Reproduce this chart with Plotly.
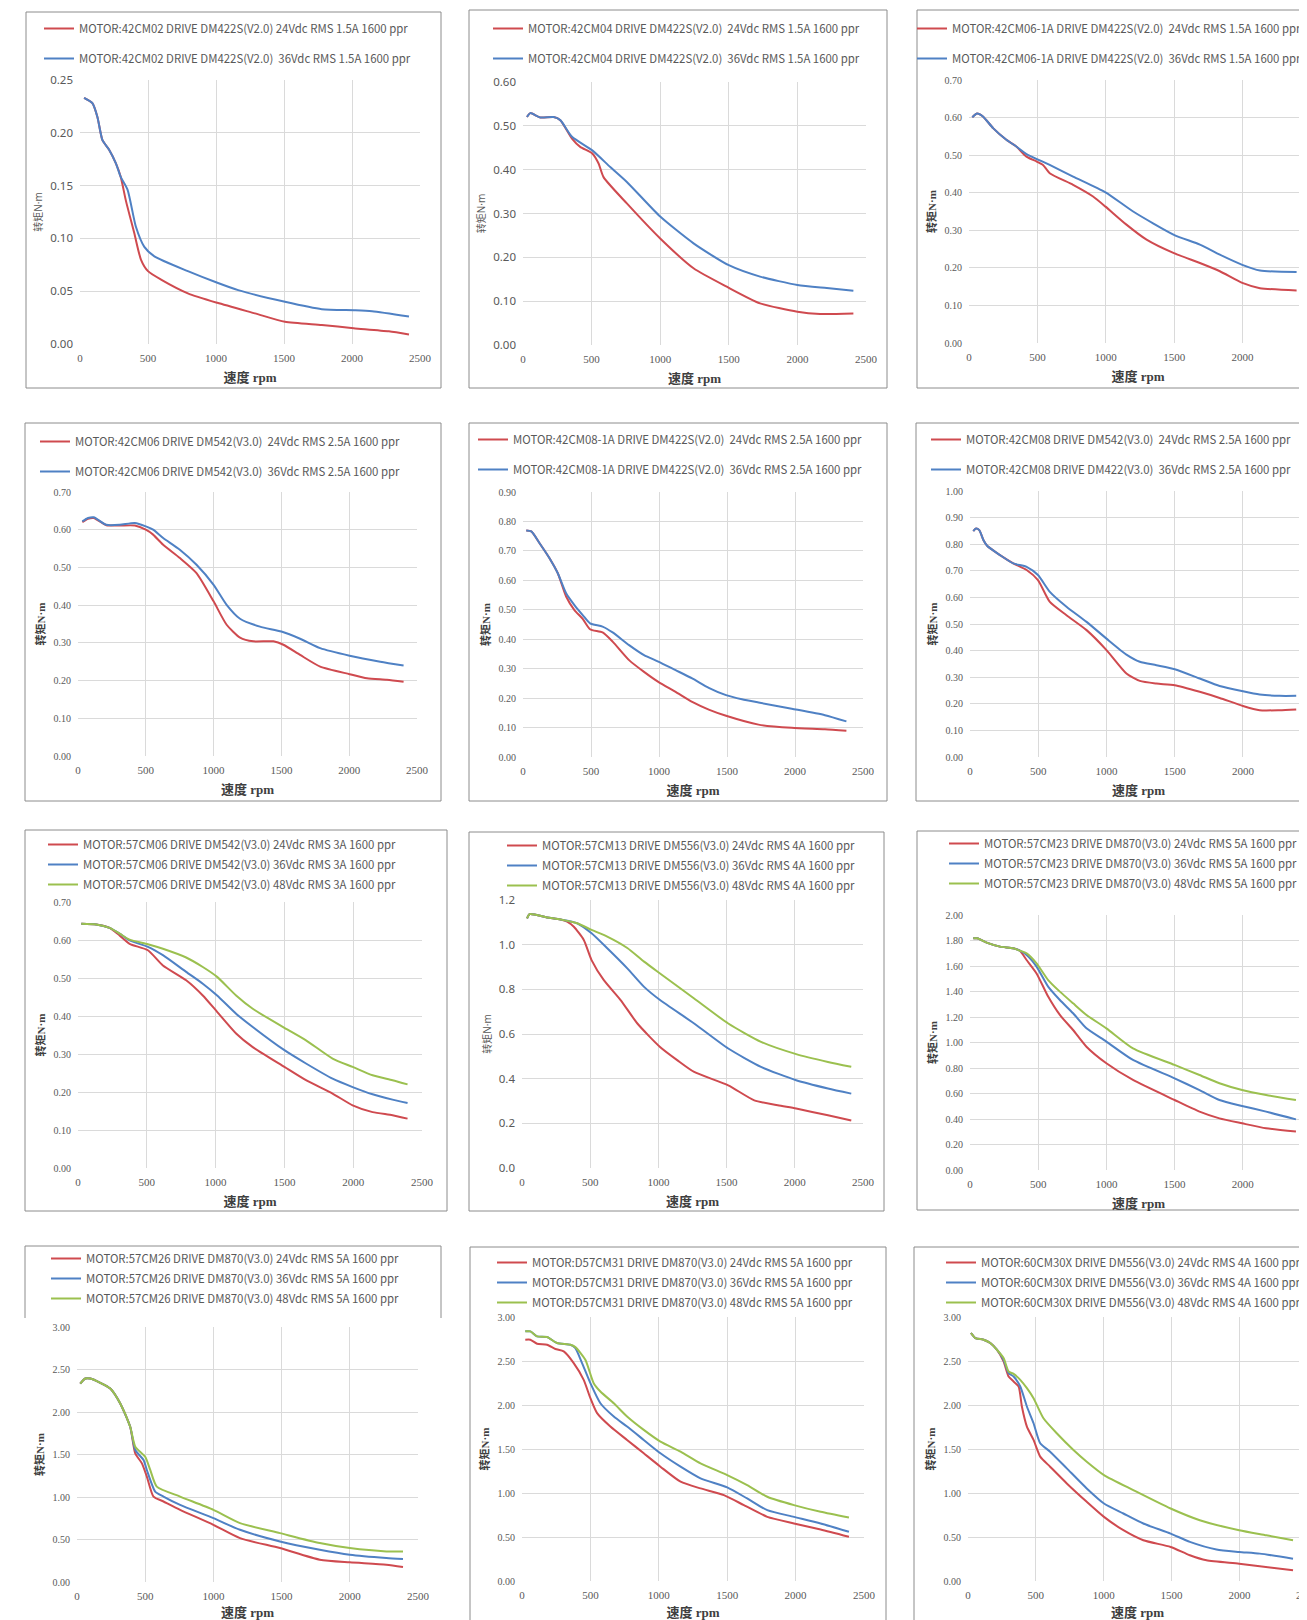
import plotly.graph_objects as go

# target picture size; the html body adds an 8px margin, so the figure itself is smaller
W, H = 1307, 1620
OFF = 8
FW, FH = W - OFF, H - OFF

RED = "#cf4a4f"
BLUE = "#4f81c4"
GREEN = "#9bc04f"

# 42CM02 / DM422S(V2.0)
CM02_RPM_24 = [30, 91, 128, 165, 214, 264, 300, 337, 399, 448, 500, 596, 793, 1010, 1286, 1507, 1778, 2012, 2271, 2419]
CM02_NM_24 = [0.233, 0.228, 0.215, 0.193, 0.184, 0.171, 0.158, 0.136, 0.105, 0.080, 0.069, 0.061, 0.048, 0.039, 0.029, 0.021, 0.018, 0.015, 0.012, 0.009]
CM02_RPM_36 = [30, 91, 128, 165, 214, 264, 300, 350, 411, 473, 547, 793, 1010, 1163, 1507, 1778, 2025, 2148, 2419]
CM02_NM_36 = [0.233, 0.228, 0.215, 0.193, 0.184, 0.171, 0.158, 0.146, 0.111, 0.092, 0.083, 0.069, 0.058, 0.051, 0.040, 0.033, 0.032, 0.031, 0.026]

# 42CM04 / DM422S(V2.0)
CM04_RPM_24 = [29, 53, 126, 223, 272, 357, 417, 505, 551, 587, 757, 1000, 1243, 1485, 1728, 2000, 2165, 2408]
CM04_NM_24 = [0.520, 0.529, 0.519, 0.520, 0.513, 0.471, 0.452, 0.437, 0.414, 0.383, 0.323, 0.243, 0.175, 0.133, 0.095, 0.076, 0.071, 0.072]
CM04_RPM_36 = [29, 53, 126, 223, 272, 357, 505, 636, 757, 1000, 1243, 1500, 1728, 2000, 2214, 2408]
CM04_NM_36 = [0.520, 0.529, 0.519, 0.520, 0.513, 0.475, 0.444, 0.406, 0.372, 0.293, 0.232, 0.182, 0.156, 0.137, 0.130, 0.124]

# 42CM06-1A / DM422S(V2.0)
CM06A_RPM_24 = [24, 59, 102, 176, 273, 346, 420, 495, 541, 590, 761, 907, 998, 1151, 1298, 1498, 1688, 1834, 1998, 2127, 2395]
CM06A_NM_24 = [0.601, 0.611, 0.603, 0.572, 0.541, 0.523, 0.496, 0.483, 0.474, 0.452, 0.421, 0.390, 0.363, 0.315, 0.275, 0.239, 0.213, 0.191, 0.160, 0.146, 0.140]
CM06A_RPM_36 = [24, 59, 102, 176, 273, 346, 420, 590, 761, 998, 1200, 1498, 1688, 1834, 1998, 2127, 2395]
CM06A_NM_36 = [0.601, 0.611, 0.603, 0.572, 0.541, 0.523, 0.503, 0.474, 0.443, 0.401, 0.350, 0.288, 0.262, 0.235, 0.208, 0.193, 0.189]

# 42CM06 / DM542(V3.0)
CM06_RPM_24 = [32, 74, 116, 209, 308, 419, 500, 554, 628, 751, 874, 1000, 1096, 1195, 1293, 1441, 1515, 1638, 1786, 2003, 2131, 2278, 2401]
CM06_NM_24 = [0.620, 0.629, 0.631, 0.612, 0.611, 0.611, 0.600, 0.587, 0.560, 0.525, 0.485, 0.410, 0.348, 0.314, 0.304, 0.304, 0.295, 0.268, 0.237, 0.217, 0.206, 0.202, 0.197]
CM06_RPM_36 = [32, 74, 116, 209, 308, 419, 500, 554, 628, 751, 874, 1000, 1096, 1195, 1342, 1500, 1638, 1786, 2003, 2229, 2401]
CM06_NM_36 = [0.622, 0.631, 0.633, 0.613, 0.613, 0.618, 0.609, 0.600, 0.578, 0.547, 0.507, 0.454, 0.401, 0.364, 0.343, 0.330, 0.311, 0.286, 0.266, 0.250, 0.240]

# 42CM08-1A / DM422S(V2.0)
CM08A_RPM_24 = [24, 61, 122, 195, 256, 317, 378, 439, 493, 585, 659, 780, 890, 995, 1122, 1244, 1366, 1493, 1732, 1976, 2220, 2378]
CM08A_NM_24 = [0.769, 0.766, 0.726, 0.675, 0.624, 0.545, 0.499, 0.469, 0.434, 0.423, 0.392, 0.329, 0.289, 0.255, 0.221, 0.187, 0.161, 0.140, 0.110, 0.099, 0.094, 0.089]
CM08A_RPM_36 = [24, 61, 122, 195, 256, 317, 378, 439, 493, 585, 659, 780, 890, 995, 1122, 1244, 1366, 1493, 1610, 1732, 1976, 2220, 2378]
CM08A_NM_36 = [0.769, 0.766, 0.726, 0.675, 0.624, 0.556, 0.516, 0.482, 0.454, 0.443, 0.423, 0.380, 0.346, 0.324, 0.295, 0.267, 0.235, 0.210, 0.196, 0.185, 0.164, 0.142, 0.121]

# 42CM08 / DM542(V3.0), DM422(V3.0)
CM08_RPM_24 = [24, 44, 68, 98, 127, 220, 317, 415, 498, 585, 707, 854, 1000, 1146, 1244, 1366, 1500, 1683, 1829, 2000, 2122, 2268, 2390]
CM08_NM_24 = [0.849, 0.859, 0.853, 0.816, 0.793, 0.759, 0.728, 0.703, 0.665, 0.583, 0.533, 0.477, 0.402, 0.314, 0.286, 0.276, 0.270, 0.245, 0.222, 0.192, 0.176, 0.176, 0.179]
CM08_RPM_36 = [24, 44, 68, 98, 127, 220, 317, 415, 498, 585, 707, 854, 1000, 1146, 1244, 1366, 1500, 1683, 1829, 2000, 2122, 2268, 2390]
CM08_NM_36 = [0.849, 0.859, 0.853, 0.816, 0.793, 0.759, 0.728, 0.715, 0.684, 0.621, 0.565, 0.508, 0.445, 0.385, 0.358, 0.345, 0.330, 0.295, 0.267, 0.247, 0.235, 0.230, 0.230]

# 57CM06 / DM542(V3.0)
M57CM06_RPM = [24, 133, 230, 302, 375, 508, 617, 786, 907, 1011, 1149, 1270, 1500, 1657, 1850, 1996, 2141, 2286, 2395]
M57CM06_NM_24 = [0.643, 0.641, 0.632, 0.612, 0.590, 0.573, 0.533, 0.494, 0.454, 0.411, 0.354, 0.318, 0.266, 0.231, 0.196, 0.165, 0.147, 0.139, 0.130]
M57CM06_NM_36 = [0.643, 0.641, 0.632, 0.617, 0.599, 0.582, 0.560, 0.516, 0.485, 0.454, 0.406, 0.371, 0.310, 0.275, 0.235, 0.213, 0.194, 0.180, 0.171]
M57CM06_NM_48 = [0.643, 0.641, 0.632, 0.617, 0.601, 0.589, 0.577, 0.554, 0.529, 0.503, 0.454, 0.419, 0.369, 0.336, 0.288, 0.266, 0.244, 0.231, 0.220]

# 57CM13 / DM556(V3.0)
M57CM13_RPM_24 = [37, 56, 184, 282, 331, 380, 453, 510, 600, 723, 846, 1012, 1140, 1262, 1512, 1703, 1875, 2010, 2243, 2414]
M57CM13_NM_24 = [1.118, 1.137, 1.122, 1.113, 1.103, 1.080, 1.021, 0.931, 0.841, 0.752, 0.647, 0.542, 0.482, 0.430, 0.370, 0.303, 0.281, 0.266, 0.236, 0.213]
M57CM13_RPM = [37, 56, 184, 282, 404, 510, 625, 772, 895, 1012, 1262, 1512, 1752, 2010, 2243, 2414]
M57CM13_NM_36 = [1.118, 1.137, 1.122, 1.113, 1.096, 1.051, 0.984, 0.894, 0.811, 0.752, 0.647, 0.535, 0.453, 0.393, 0.356, 0.333]
M57CM13_NM_48 = [1.118, 1.137, 1.122, 1.113, 1.096, 1.066, 1.036, 0.985, 0.924, 0.871, 0.759, 0.647, 0.565, 0.510, 0.475, 0.453]

# 57CM23 / DM870(V3.0)
M57CM23_RPM = [24, 54, 122, 220, 317, 366, 415, 488, 573, 659, 756, 854, 1000, 1195, 1500, 1683, 1829, 1995, 2171, 2390]
M57CM23_NM_24 = [1.817, 1.817, 1.783, 1.752, 1.739, 1.720, 1.647, 1.542, 1.360, 1.216, 1.098, 0.967, 0.837, 0.706, 0.549, 0.458, 0.405, 0.366, 0.327, 0.301]
M57CM23_NM_36 = [1.817, 1.817, 1.783, 1.752, 1.739, 1.720, 1.686, 1.595, 1.438, 1.333, 1.229, 1.111, 1.007, 0.863, 0.719, 0.627, 0.549, 0.502, 0.458, 0.397]
M57CM23_NM_48 = [1.817, 1.817, 1.783, 1.752, 1.739, 1.720, 1.699, 1.621, 1.490, 1.399, 1.307, 1.216, 1.111, 0.954, 0.824, 0.745, 0.680, 0.627, 0.588, 0.549]

# 57CM26 / DM870(V3.0)
M57CM26_RPM_24 = [24, 61, 98, 171, 244, 317, 390, 427, 476, 512, 561, 634, 756, 1000, 1195, 1488, 1780, 2000, 2268, 2390]
M57CM26_NM_24 = [2.335, 2.394, 2.394, 2.343, 2.276, 2.100, 1.826, 1.513, 1.396, 1.240, 1.005, 0.947, 0.849, 0.673, 0.516, 0.399, 0.262, 0.231, 0.203, 0.176]
M57CM26_RPM_36 = [24, 61, 98, 171, 244, 317, 390, 427, 488, 512, 573, 634, 756, 1000, 1195, 1488, 1780, 2000, 2268, 2390]
M57CM26_NM_36 = [2.335, 2.394, 2.394, 2.343, 2.276, 2.100, 1.826, 1.553, 1.435, 1.318, 1.064, 1.005, 0.907, 0.751, 0.614, 0.477, 0.380, 0.321, 0.282, 0.270]
M57CM26_RPM_48 = [24, 61, 98, 171, 244, 317, 390, 427, 500, 537, 585, 756, 1000, 1195, 1488, 1780, 2000, 2268, 2390]
M57CM26_NM_48 = [2.335, 2.394, 2.394, 2.343, 2.276, 2.100, 1.826, 1.592, 1.474, 1.318, 1.122, 1.005, 0.849, 0.693, 0.575, 0.458, 0.399, 0.360, 0.360]

# D57CM31 / DM870(V3.0)
D57_RPM_24 = [24, 61, 110, 183, 244, 305, 378, 451, 500, 549, 646, 768, 890, 1012, 1159, 1305, 1476, 1622, 1793, 1988, 2183, 2390]
D57_NM_24 = [2.742, 2.742, 2.696, 2.685, 2.636, 2.609, 2.476, 2.286, 2.077, 1.907, 1.755, 1.603, 1.451, 1.299, 1.129, 1.052, 0.976, 0.862, 0.729, 0.654, 0.585, 0.502]
D57_RPM_36 = [24, 61, 110, 183, 256, 354, 390, 439, 500, 573, 671, 768, 890, 1012, 1159, 1305, 1500, 1646, 1793, 1988, 2183, 2390]
D57_NM_36 = [2.837, 2.837, 2.780, 2.772, 2.704, 2.685, 2.647, 2.476, 2.248, 2.020, 1.869, 1.755, 1.603, 1.451, 1.299, 1.166, 1.064, 0.938, 0.805, 0.729, 0.654, 0.559]
D57_RPM_48 = [24, 61, 110, 183, 256, 354, 390, 463, 524, 573, 671, 768, 890, 1012, 1159, 1305, 1500, 1646, 1793, 1988, 2183, 2390]
D57_NM_48 = [2.837, 2.837, 2.780, 2.772, 2.704, 2.685, 2.658, 2.514, 2.248, 2.153, 2.020, 1.869, 1.717, 1.584, 1.470, 1.337, 1.204, 1.090, 0.957, 0.862, 0.786, 0.721]

# 60CM30X / DM556(V3.0)
M60_RPM_24 = [22, 54, 115, 164, 213, 262, 299, 336, 373, 397, 434, 483, 532, 605, 728, 875, 1002, 1145, 1292, 1493, 1635, 1757, 1998, 2150, 2395]
M60_NM_24 = [2.818, 2.761, 2.742, 2.704, 2.628, 2.495, 2.324, 2.267, 2.210, 1.983, 1.755, 1.603, 1.413, 1.299, 1.109, 0.900, 0.729, 0.577, 0.463, 0.387, 0.292, 0.235, 0.197, 0.167, 0.121]
M60_RPM_36 = [22, 54, 115, 164, 213, 262, 299, 336, 385, 434, 483, 532, 605, 728, 875, 1002, 1145, 1292, 1493, 1635, 1831, 1998, 2150, 2395]
M60_NM_36 = [2.818, 2.761, 2.742, 2.704, 2.628, 2.514, 2.362, 2.324, 2.210, 1.983, 1.793, 1.565, 1.470, 1.280, 1.052, 0.881, 0.767, 0.653, 0.539, 0.444, 0.357, 0.330, 0.311, 0.254]
M60_RPM_48 = [22, 54, 115, 164, 213, 262, 299, 336, 385, 434, 483, 556, 654, 777, 875, 1002, 1218, 1493, 1708, 1998, 2199, 2395]
M60_NM_48 = [2.818, 2.761, 2.742, 2.704, 2.628, 2.533, 2.381, 2.354, 2.286, 2.191, 2.077, 1.849, 1.679, 1.489, 1.356, 1.204, 1.033, 0.824, 0.691, 0.577, 0.520, 0.463]

S2 = "\u00a0 "  # the double gap used in some legend labels

# box and plot area in picture px, axis ranges, legend text anchor (x, first row y, row gap)
PANELS = [
    dict(series=[(CM02_RPM_24, CM02_NM_24, RED, "MOTOR:42CM02 DRIVE DM422S(V2.0) 24Vdc RMS 1.5A 1600 ppr"),
                 (CM02_RPM_36, CM02_NM_36, BLUE, "MOTOR:42CM02 DRIVE DM422S(V2.0)" + S2 + "36Vdc RMS 1.5A 1600 ppr")],
         box=(26, 12, 441, 388), plot=(80, 420, 80, 344), xmax=2500, ymax=0.25, dtick=0.05, fmt=".2f",
         sans=True, leg=(79, 28, 30)),
    dict(series=[(CM04_RPM_24, CM04_NM_24, RED, "MOTOR:42CM04 DRIVE DM422S(V2.0)" + S2 + "24Vdc RMS 1.5A 1600 ppr"),
                 (CM04_RPM_36, CM04_NM_36, BLUE, "MOTOR:42CM04 DRIVE DM422S(V2.0)" + S2 + "36Vdc RMS 1.5A 1600 ppr")],
         box=(469, 10, 887, 388), plot=(523, 866, 82, 345), xmax=2500, ymax=0.60, dtick=0.1, fmt=".2f",
         sans=True, leg=(528, 28, 30)),
    dict(series=[(CM06A_RPM_24, CM06A_NM_24, RED, "MOTOR:42CM06-1A DRIVE DM422S(V2.0)" + S2 + "24Vdc RMS 1.5A 1600 ppr"),
                 (CM06A_RPM_36, CM06A_NM_36, BLUE, "MOTOR:42CM06-1A DRIVE DM422S(V2.0)" + S2 + "36Vdc RMS 1.5A 1600 ppr")],
         box=(917, 10, 1330, 388), plot=(969, 1307, 80, 343), xmax=2471, ymax=0.70, dtick=0.1, fmt=".2f",
         sans=False, leg=(952, 28, 30)),
    dict(series=[(CM06_RPM_24, CM06_NM_24, RED, "MOTOR:42CM06 DRIVE DM542(V3.0)" + S2 + "24Vdc RMS 2.5A 1600 ppr"),
                 (CM06_RPM_36, CM06_NM_36, BLUE, "MOTOR:42CM06 DRIVE DM542(V3.0)" + S2 + "36Vdc RMS 2.5A 1600 ppr")],
         box=(25, 423, 441, 801), plot=(78, 417, 492, 756), xmax=2500, ymax=0.70, dtick=0.1, fmt=".2f",
         sans=False, leg=(75, 441, 30)),
    dict(series=[(CM08A_RPM_24, CM08A_NM_24, RED, "MOTOR:42CM08-1A DRIVE DM422S(V2.0)" + S2 + "24Vdc RMS 2.5A 1600 ppr"),
                 (CM08A_RPM_36, CM08A_NM_36, BLUE, "MOTOR:42CM08-1A DRIVE DM422S(V2.0)" + S2 + "36Vdc RMS 2.5A 1600 ppr")],
         box=(469, 423, 887, 801), plot=(523, 863, 492, 757), xmax=2500, ymax=0.90, dtick=0.1, fmt=".2f",
         sans=False, leg=(513, 439, 30)),
    dict(series=[(CM08_RPM_24, CM08_NM_24, RED, "MOTOR:42CM08 DRIVE DM542(V3.0)" + S2 + "24Vdc RMS 2.5A 1600 ppr"),
                 (CM08_RPM_36, CM08_NM_36, BLUE, "MOTOR:42CM08 DRIVE DM422(V3.0)" + S2 + "36Vdc RMS 2.5A 1600 ppr")],
         box=(916, 423, 1330, 801), plot=(970, 1307, 491, 757), xmax=2469, ymax=1.00, dtick=0.1, fmt=".2f",
         sans=False, leg=(966, 439, 30)),
    dict(series=[(M57CM06_RPM, M57CM06_NM_24, RED, "MOTOR:57CM06 DRIVE DM542(V3.0) 24Vdc RMS 3A 1600 ppr"),
                 (M57CM06_RPM, M57CM06_NM_36, BLUE, "MOTOR:57CM06 DRIVE DM542(V3.0) 36Vdc RMS 3A 1600 ppr"),
                 (M57CM06_RPM, M57CM06_NM_48, GREEN, "MOTOR:57CM06 DRIVE DM542(V3.0) 48Vdc RMS 3A 1600 ppr")],
         box=(25, 830, 447, 1211), plot=(78, 422, 902, 1168), xmax=2500, ymax=0.70, dtick=0.1, fmt=".2f",
         sans=False, leg=(83, 844, 20)),
    dict(series=[(M57CM13_RPM_24, M57CM13_NM_24, RED, "MOTOR:57CM13 DRIVE DM556(V3.0) 24Vdc RMS 4A 1600 ppr"),
                 (M57CM13_RPM, M57CM13_NM_36, BLUE, "MOTOR:57CM13 DRIVE DM556(V3.0) 36Vdc RMS 4A 1600 ppr"),
                 (M57CM13_RPM, M57CM13_NM_48, GREEN, "MOTOR:57CM13 DRIVE DM556(V3.0) 48Vdc RMS 4A 1600 ppr")],
         box=(469, 832, 884, 1211), plot=(522, 863, 900, 1168), xmax=2500, ymax=1.2, dtick=0.2, fmt=".1f",
         sans=True, leg=(542, 845, 20)),
    dict(series=[(M57CM23_RPM, M57CM23_NM_24, RED, "MOTOR:57CM23 DRIVE DM870(V3.0) 24Vdc RMS 5A 1600 ppr"),
                 (M57CM23_RPM, M57CM23_NM_36, BLUE, "MOTOR:57CM23 DRIVE DM870(V3.0) 36Vdc RMS 5A 1600 ppr"),
                 (M57CM23_RPM, M57CM23_NM_48, GREEN, "MOTOR:57CM23 DRIVE DM870(V3.0) 48Vdc RMS 5A 1600 ppr")],
         box=(917, 831, 1330, 1210), plot=(970, 1307, 915, 1170), xmax=2471, ymax=2.0, dtick=0.2, fmt=".2f",
         sans=False, leg=(984, 843, 20)),
    dict(series=[(M57CM26_RPM_24, M57CM26_NM_24, RED, "MOTOR:57CM26 DRIVE DM870(V3.0) 24Vdc RMS 5A 1600 ppr"),
                 (M57CM26_RPM_36, M57CM26_NM_36, BLUE, "MOTOR:57CM26 DRIVE DM870(V3.0) 36Vdc RMS 5A 1600 ppr"),
                 (M57CM26_RPM_48, M57CM26_NM_48, GREEN, "MOTOR:57CM26 DRIVE DM870(V3.0) 48Vdc RMS 5A 1600 ppr")],
         box=(25, 1246, 441, 1318), plot=(77, 418, 1327, 1582), xmax=2500, ymax=3.0, dtick=0.5, fmt=".2f",
         sans=False, leg=(86, 1258, 20), openbottom=True),
    dict(series=[(D57_RPM_24, D57_NM_24, RED, "MOTOR:D57CM31 DRIVE DM870(V3.0) 24Vdc RMS 5A 1600 ppr"),
                 (D57_RPM_36, D57_NM_36, BLUE, "MOTOR:D57CM31 DRIVE DM870(V3.0) 36Vdc RMS 5A 1600 ppr"),
                 (D57_RPM_48, D57_NM_48, GREEN, "MOTOR:D57CM31 DRIVE DM870(V3.0) 48Vdc RMS 5A 1600 ppr")],
         box=(470, 1247, 886, 1650), plot=(522, 864, 1317, 1581), xmax=2500, ymax=3.0, dtick=0.5, fmt=".2f",
         sans=False, leg=(532, 1262, 20)),
    dict(series=[(M60_RPM_24, M60_NM_24, RED, "MOTOR:60CM30X DRIVE DM556(V3.0) 24Vdc RMS 4A 1600 ppr"),
                 (M60_RPM_36, M60_NM_36, BLUE, "MOTOR:60CM30X DRIVE DM556(V3.0) 36Vdc RMS 4A 1600 ppr"),
                 (M60_RPM_48, M60_NM_48, GREEN, "MOTOR:60CM30X DRIVE DM556(V3.0) 48Vdc RMS 4A 1600 ppr")],
         box=(914, 1247, 1330, 1650), plot=(968, 1307, 1317, 1581), xmax=2498, ymax=3.0, dtick=0.5, fmt=".2f",
         sans=False, leg=(981, 1262, 20)),
]

SANS = "Noto Sans, Noto Sans CJK SC"
LEG_FONT = "Noto Sans CJK SC"
SERIF = "Liberation Serif, Noto Sans CJK SC"
GRID = "#dadada"
BOX = "#8c8c8c"


def fx(px):
    return (px - OFF) / FW


def fy(px):
    return 1 - (px - OFF) / FH


fig = go.Figure()
layout = {}
shapes = []
annotations = []

for i, p in enumerate(PANELS, start=1):
    sfx = "" if i == 1 else str(i)
    leg_name = "legend" + sfx
    for j, (rpm, nm, color, name) in enumerate(p["series"]):
        fig.add_trace(go.Scatter(
            x=rpm, y=nm, name=name, mode="lines",
            line=dict(color=color, width=2, shape="spline", smoothing=0.6),
            xaxis="x" + sfx, yaxis="y" + sfx,
            legend=leg_name, legendgroup=f"p{i}s{j}",
        ))

    x0, x1, y0, y1 = p["plot"]
    if p["sans"]:
        ytick_font = dict(family=SANS, size=11.5, color="#595959")
        ytitle = dict(text="转矩N·m", font=dict(family=SANS, size=10, color="#595959"), standoff=5)
    else:
        ytick_font = dict(family=SERIF, size=10, color="#595959")
        ytitle = dict(text="<b>转矩N·m</b>", font=dict(family=SERIF, size=11, color="#404040"), standoff=5)

    layout["xaxis" + sfx] = dict(
        domain=[fx(x0), min(fx(x1), 1)], range=[0, p["xmax"]], anchor="y" + sfx,
        tick0=0, dtick=500, showgrid=True, gridcolor=GRID, gridwidth=1,
        zeroline=False, showline=False, ticks="", ticklabelstandoff=6,
        tickfont=dict(family=SERIF, size=11, color="#595959"),
        title=dict(text="<b>速度 rpm</b>", font=dict(family=SERIF, size=13, color="#404040"), standoff=9),
        fixedrange=True,
    )
    layout["yaxis" + sfx] = dict(
        domain=[fy(y1), fy(y0)], range=[0, p["ymax"]], anchor="x" + sfx,
        tick0=0, dtick=p["dtick"], tickformat=p["fmt"], showgrid=True, gridcolor=GRID, gridwidth=1,
        zeroline=False, showline=False, ticks="", ticklabelstandoff=6,
        tickfont=ytick_font, title=ytitle, fixedrange=True,
    )

    # the last tick label of the right column is cut by the picture edge
    if p["xmax"] < 2500:
        annotations.append(dict(
            text="2500", xref="paper", yref="paper",
            x=fx(x0 + (x1 - x0) * 2500 / p["xmax"]), y=fy(y1 + 14),
            xanchor="center", yanchor="middle", showarrow=False,
            font=dict(family=SERIF, size=11, color="#595959"),
        ))

    tx, ty, gap = p["leg"]
    layout[leg_name] = dict(
        x=fx(tx - 40), y=fy(ty - 14), xanchor="left", yanchor="top",
        orientation="v", bgcolor="rgba(0,0,0,0)", borderwidth=0,
        font=dict(family=LEG_FONT, size=11.4, color="#595959"),
        itemwidth=30, tracegroupgap=gap - 19, itemclick=False, itemdoubleclick=False,
    )

    bl, bt, br, bb = p["box"]
    if p.get("openbottom"):
        path = f"M{fx(bl)},{fy(bb)} L{fx(bl)},{fy(bt)} L{fx(br)},{fy(bt)} L{fx(br)},{fy(bb)}"
        shapes.append(dict(type="path", xref="paper", yref="paper", path=path,
                           line=dict(color=BOX, width=1), layer="below"))
    else:
        shapes.append(dict(type="rect", xref="paper", yref="paper",
                           x0=fx(bl), x1=fx(br), y0=fy(bb), y1=fy(bt),
                           line=dict(color=BOX, width=1), fillcolor="rgba(0,0,0,0)", layer="below"))

fig.update_layout(
    width=FW, height=FH,
    margin=dict(l=0, r=0, t=0, b=0, autoexpand=False),
    paper_bgcolor="white", plot_bgcolor="white",
    showlegend=True, shapes=shapes, annotations=annotations,
    **layout,
)

fig.write_html("out.html")
